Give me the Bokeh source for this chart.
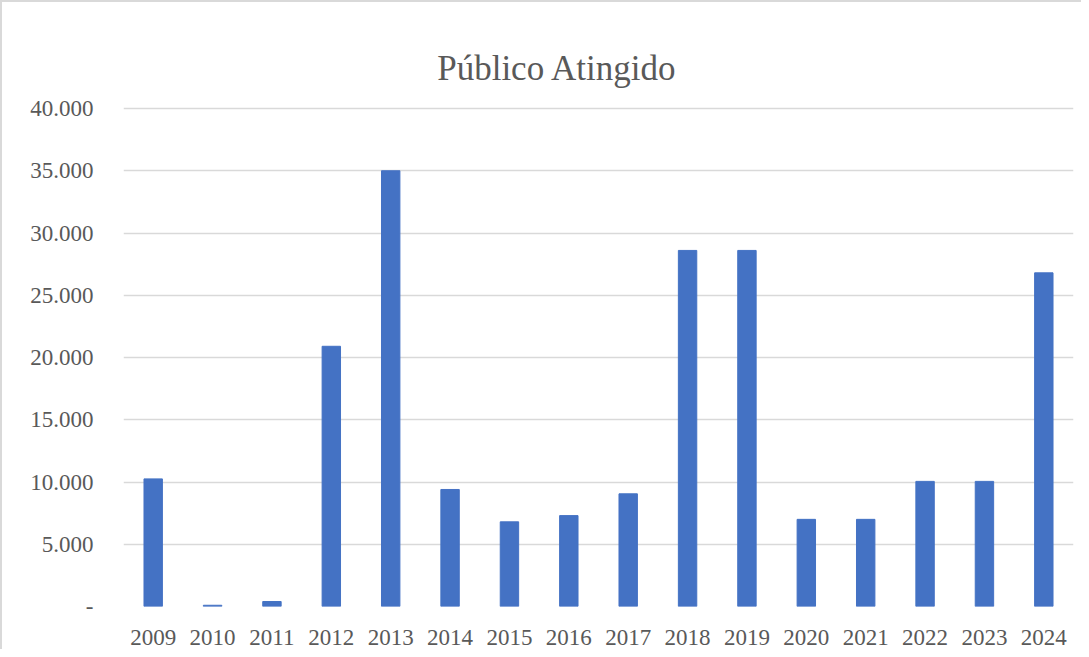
from bokeh.plotting import figure
from bokeh.models import Range1d, FactorRange
from bokeh.core.properties import value
from bokeh.embed import file_html
from bokeh.resources import INLINE

years = ["2009", "2010", "2011", "2012", "2013", "2014", "2015", "2016",
         "2017", "2018", "2019", "2020", "2021", "2022", "2023", "2024"]
publico = [10250, 100, 400, 20900, 35000, 9400, 6800, 7300,
           9050, 28600, 28600, 7000, 7000, 10050, 10050, 26800]
y_ticks = [0, 5000, 10000, 15000, 20000, 25000, 30000, 35000, 40000]
y_tick_labels = ["-", "5.000", "10.000", "15.000", "20.000", "25.000",
                 "30.000", "35.000", "40.000"]
title_text = "Público Atingido"

TEXT = "#595959"
GRID = "#d9d9d9"
FONT = "Liberation Serif"

# the frame is extended above the top gridline to leave room for the title
p = figure(x_range=FactorRange(*years), y_range=Range1d(0, 47711),
           width=1081, height=649, output_backend="svg", toolbar_location=None,
           min_border_left=121, min_border_right=10, min_border_top=10,
           min_border_bottom=45)

p.vbar(x=years, top=publico, width=0.31, color="#4472C4")

# title drawn as a text glyph anchored to the first category / top tick
p.text(x=[years[0]], y=[y_ticks[-1]], text=[title_text], x_offset=284, y_offset=-40,
       text_font=value(FONT), text_font_size="35px", text_color=TEXT,
       text_baseline="alphabetic", text_align="left")

p.outline_line_color = None
p.xgrid.grid_line_color = None
p.ygrid.grid_line_color = GRID
p.ygrid.grid_line_width = 1.5
p.yaxis.ticker = y_ticks
p.yaxis.major_label_overrides = {t: l for t, l in zip(y_ticks, y_tick_labels)}

for ax in (p.xaxis, p.yaxis):
    ax.axis_line_color = None
    ax.major_tick_line_color = None
    ax.minor_tick_line_color = None
    ax.major_label_text_font = FONT
    ax.major_label_text_font_size = "23px"
    ax.major_label_text_color = TEXT

p.yaxis.major_label_standoff = 24
p.xaxis.major_label_standoff = 17
p.xaxis.group_text_font_size = "0px"

p.styles = {"border-left": "2px solid #d9d9d9", "border-top": "2px solid #d9d9d9"}

open("out.html", "w").write(file_html(p, INLINE))
